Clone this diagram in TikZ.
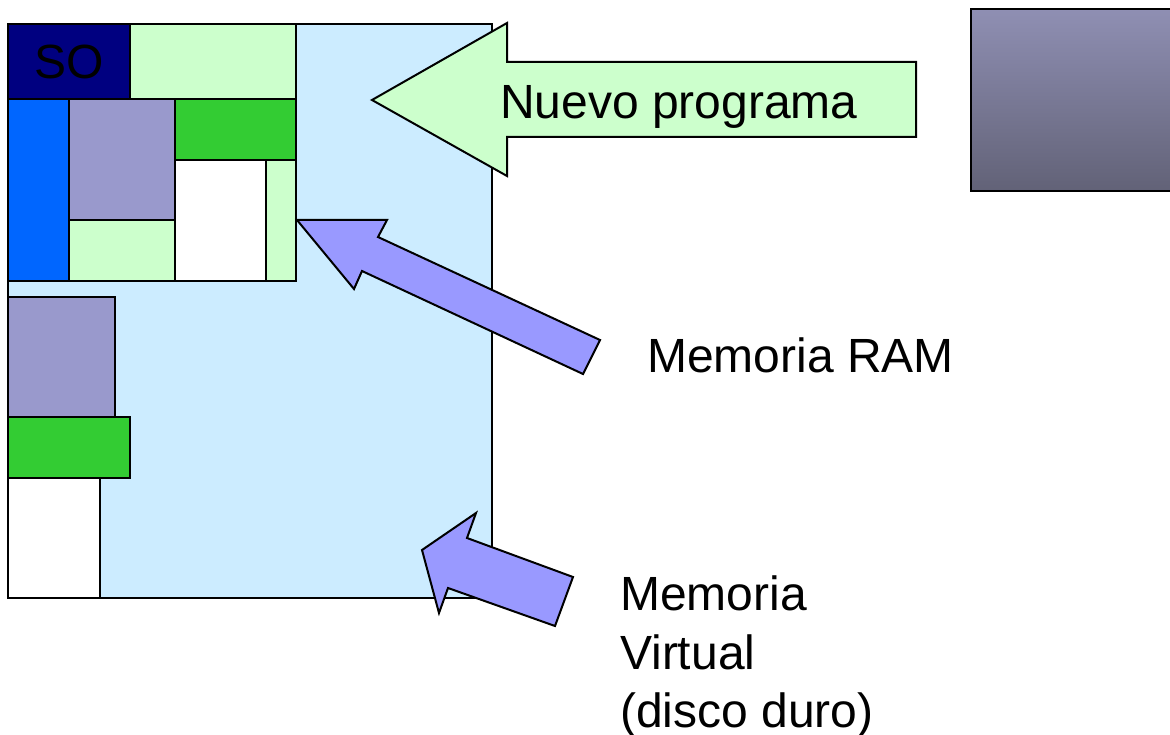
\documentclass[tikz,border=0pt]{standalone}
\usepackage{fontspec}
\setmainfont{Liberation Sans}
\definecolor{lblue}{HTML}{CCECFF}
\definecolor{lgreen}{HTML}{CCFFCC}
\definecolor{navy}{HTML}{000080}
\definecolor{vblue}{HTML}{0066FF}
\definecolor{lpurple}{HTML}{9999CC}
\definecolor{mgreen}{HTML}{33CC33}
\definecolor{arrowfill}{HTML}{9999FF}
\definecolor{gtop}{HTML}{8F8FB3}
\definecolor{gbot}{HTML}{626277}
\begin{document}
\begin{tikzpicture}[x=1pt,y=-1pt,line join=miter,
  box/.style={draw=black,line width=2pt,inner sep=0pt,outer sep=0pt,anchor=north west},
  blockarrow/.style={draw=black,line width=2pt,line join=miter},
  lbl/.style={inner sep=0pt,anchor=base west,font=\fontsize{48}{58}\selectfont}]
\useasboundingbox (0,0) rectangle (1170,735);
\clip (0,0) rectangle (1170,735);
% virtual memory area
\node[box,fill=lblue,minimum width=484pt,minimum height=574pt] (vm) at (8,24) {};
% RAM blocks
\node[box,fill=navy,minimum width=122pt,minimum height=75pt,font=\fontsize{48}{58}\selectfont] (so) at (8,24) {SO};
\node[box,fill=lgreen,minimum width=166pt,minimum height=75pt] (g1) at (130,24) {};
\node[box,fill=vblue,minimum width=61pt,minimum height=182pt] (b1) at (8,99) {};
\node[box,fill=lpurple,minimum width=106pt,minimum height=121pt] (p1) at (69,99) {};
\node[box,fill=lgreen,minimum width=106pt,minimum height=61pt] (g2) at (69,220) {};
\node[box,fill=mgreen,minimum width=121pt,minimum height=61pt] (gr1) at (175,99) {};
\node[box,fill=white,minimum width=91pt,minimum height=121pt] (w1) at (175,160) {};
\node[box,fill=lgreen,minimum width=30pt,minimum height=121pt] (g3) at (266,160) {};
% swapped blocks
\node[box,fill=lpurple,minimum width=107pt,minimum height=120pt] (p2) at (8,297) {};
\node[box,fill=mgreen,minimum width=122pt,minimum height=61pt] (gr2) at (8,417) {};
\node[box,fill=white,minimum width=92pt,minimum height=120pt] (w2) at (8,478) {};
% grey box at right
\shade[top color=gtop,bottom color=gbot] (971,9) rectangle (1180,191);
\draw[line width=2pt] (971,9) rectangle (1180,191);
% new program arrow
\draw[blockarrow,fill=lgreen] (372,100) -- (507,23) -- (507,62) -- (916,62) -- (916,137) -- (507,137) -- (507,176) -- cycle;
\node[lbl] (np) at (500,119) {Nuevo programa};
% RAM arrow
\draw[blockarrow,fill=arrowfill] (297,220) -- (387,220) -- (378,237) -- (600,340) -- (583,374) -- (362,271) -- (354,289) -- cycle;
\node[lbl] (ram) at (647,372) {Memoria RAM};
% virtual memory arrow
\draw[blockarrow,fill=arrowfill] (422,550) -- (476,513) -- (467,538) -- (573,577) -- (555,626) -- (448,588) -- (439,613) -- cycle;
\node[lbl] (mv1) at (620,610) {Memoria};
\node[lbl] (mv2) at (620,669) {Virtual};
\node[lbl] (mv3) at (620,727) {(disco duro)};
\end{tikzpicture}
\end{document}
